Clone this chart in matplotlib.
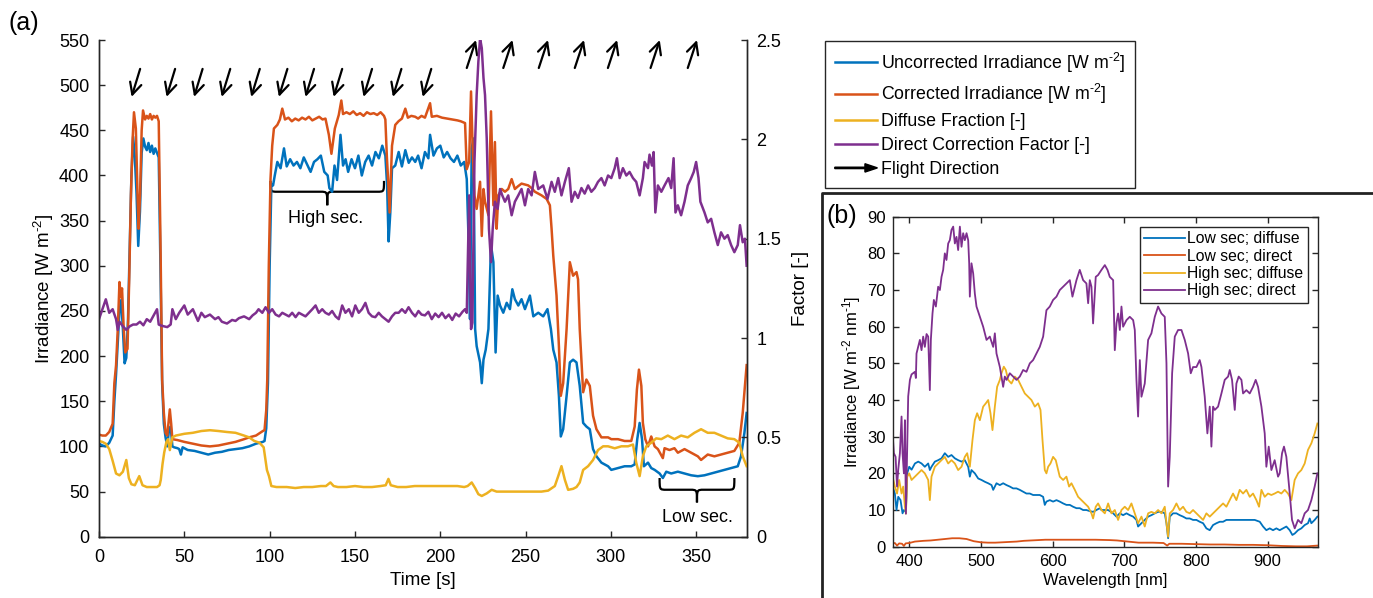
import numpy as np
import matplotlib
matplotlib.use('Agg')
import matplotlib.pyplot as plt
from matplotlib.path import Path
from matplotlib.patches import PathPatch, FancyArrow
from matplotlib.lines import Line2D
from matplotlib.legend_handler import HandlerBase

plt.rcParams['font.family'] = ['Liberation Sans', 'DejaVu Sans']
plt.rcParams['mathtext.fontset'] = 'custom'
plt.rcParams['mathtext.rm'] = 'Liberation Sans'
plt.rcParams['mathtext.default'] = 'regular'

C_BLUE, C_ORANGE, C_YELLOW, C_PURPLE = '#0072BD', '#D95319', '#EDB120', '#7E2F8E'
AX_COL = '#262626'

# ---------------- panel (a): time series ----------------
t_unc = [0, 2, 4, 6, 8, 9, 10, 11, 12, 13, 14, 15, 16, 17, 18, 19, 20, 21, 22, 23, 24, 25, 26, 27, 28, 29,
         30, 31, 32, 33, 34, 35, 36, 37, 38, 39, 40, 41, 42, 43, 44, 46, 47, 48, 49, 52, 56, 60, 64, 68, 72,
         76, 80, 84, 88, 92, 96, 97, 98, 99, 100, 101, 102, 103, 104.5, 106.4, 108.4, 110, 112, 114, 116,
         118, 120, 122, 124, 126, 128, 130, 132, 134, 135, 136.6, 138, 139.5, 141.5, 143, 144.5, 146, 148,
         150, 152, 154, 156, 158, 160, 162, 164, 166, 167.8, 168.8, 169.7, 170.7, 171.7, 173.6, 175.6,
         177.5, 179.5, 181.5, 183.4, 185.3, 187, 189, 191, 193, 194, 196, 198, 200, 202, 204, 206, 208,
         210, 212, 214, 215.5, 216.5, 217.4, 218.4, 219.4, 220.4, 221.3, 223.3, 224.3, 225.3, 226.6, 228.2,
         229.7, 231.1, 232.4, 233.6, 235, 236.9, 238.9, 240.8, 242.2, 243.7, 245.7, 247.6, 249.6, 252.5,
         254.5, 257.4, 260.3, 262.8, 264.8, 266.2, 268.1, 269.5, 270.6, 272, 274, 275.9, 277.8, 279.8,
         281.7, 283.7, 285.6, 287.6, 289.5, 291.5, 294.4, 298.3, 300.2, 304.1, 308, 311.9, 313.9, 315.4,
         316.8, 318.2, 319.3, 321.7, 323.6, 325.6, 328.5, 330.4, 332.4, 335.3, 339.2, 343.1, 347, 350.9,
         354.8, 358.7, 362.6, 366.5, 370.4, 374.3, 376.2, 378.2, 379.5]
irr_unc = [103, 101, 100, 104, 112, 150, 180, 215, 250, 262, 230, 192, 198, 240, 320, 400, 443, 420, 380,
           322, 360, 425, 441, 432, 428, 436, 426, 433, 424, 430, 425, 420, 300, 170, 125, 110, 100, 118,
           122, 100, 99, 98, 97, 91, 99, 96, 95, 93, 91, 93, 94, 96, 97, 98, 100, 103, 105, 106, 120, 170,
           300, 390, 389, 400, 415, 408, 430, 410, 418, 411, 415, 408, 420, 412, 404, 415, 418, 422, 404,
           400, 386, 382, 411, 395, 445, 411, 418, 404, 418, 408, 422, 400, 415, 422, 411, 426, 419, 433,
           422, 390, 327, 359, 408, 411, 426, 410, 428, 414, 420, 415, 422, 408, 426, 419, 445, 422, 430,
           433, 420, 426, 419, 415, 422, 411, 415, 396, 333, 241, 430, 441, 230, 211, 193, 170, 196, 207,
           230, 323, 304, 204, 267, 256, 248, 259, 252, 274, 263, 256, 263, 252, 267, 244, 248, 244, 252,
           230, 207, 193, 156, 111, 119, 156, 193, 196, 193, 167, 126, 122, 119, 97, 89, 82, 78, 74, 76,
           78, 78, 80, 108, 126, 108, 78, 82, 76, 74, 70, 65, 72, 70, 72, 70, 68, 67, 68, 70, 72, 74, 76,
           78, 89, 115, 137]

t_cor = [0, 2, 4, 6, 8, 9, 10, 11, 12, 12.8, 13.5, 14.5, 15.4, 16.7, 17.7, 18.7, 19.7, 20.5, 21.6, 22.6,
         23.2, 24.1, 25, 25.8, 27, 28, 29, 30, 31, 32, 33, 34, 35, 36, 37, 38, 39, 40, 41.5, 42.3, 43, 46,
         50, 55, 60, 65, 70, 75, 80, 85, 88, 92, 96, 97, 98, 98.6, 99.5, 100.5, 101.5, 102.5, 104.5, 106,
         107.4, 109, 111, 113, 115, 117, 119, 121, 123, 125, 127, 129, 131, 132.7, 134.7, 136.2, 138.2,
         140.5, 142, 143, 145, 147, 149, 151, 153, 155, 157, 159, 161, 163, 165, 167, 167.8, 168.7, 169.4,
         170.3, 171.7, 173.6, 175.5, 177.5, 179.5, 181, 183, 185.3, 187, 189, 191, 194, 195, 198, 201, 204,
         207, 210, 212, 214.5, 215.5, 216.9, 218, 218.8, 220, 221.3, 223.3, 224.3, 225.3, 226.2, 228.2,
         229.7, 231.1, 232, 233, 234, 236, 237.9, 239.8, 241.8, 243.7, 245.5, 247.6, 249.5, 251.5, 253.5,
         255.4, 257.4, 259.3, 262.3, 264.2, 265.2, 266.2, 268.1, 269.5, 270.6, 272, 274, 275.9, 277.8,
         279.8, 280.7, 281.7, 283.7, 285.6, 287.6, 289.5, 291.5, 294.4, 298.3, 300.2, 304.1, 308, 311.9,
         313.9, 315.2, 316.4, 317.8, 318.7, 320.1, 321.7, 323.6, 325.6, 327.5, 330.4, 331.4, 334.3, 337.2,
         339.2, 343.1, 347, 350.9, 352.8, 356.7, 360.6, 364.5, 368.4, 372.3, 375.2, 377.2, 379.5]
irr_cor = [113, 112, 112, 116, 125, 170, 190, 230, 282, 265, 275, 230, 204, 208, 285, 378, 440, 470, 452,
           378, 341, 380, 450, 472, 462, 466, 463, 468, 462, 466, 464, 466, 460, 330, 174, 137, 115, 112,
           141, 125, 108, 107, 105, 103, 101, 100, 101, 103, 105, 108, 110, 112, 117, 118, 140, 174, 300,
           396, 433, 452, 456, 462, 474, 462, 464, 460, 463, 461, 464, 462, 465, 461, 463, 465, 462, 463,
           445, 424, 452, 467, 483, 468, 470, 468, 471, 467, 469, 466, 470, 468, 469, 467, 470, 466, 462,
           420, 396, 359, 433, 456, 460, 463, 474, 464, 466, 465, 463, 466, 464, 480, 465, 466, 464, 463,
           462, 461, 460, 458, 407, 415, 493, 441, 378, 363, 393, 333, 385, 371, 356, 471, 367, 437, 341,
           378, 385, 382, 385, 396, 385, 388, 391, 390, 389, 386, 382, 380, 378, 374, 367, 341, 311, 267,
           211, 156, 170, 230, 304, 289, 293, 285, 230, 160, 174, 167, 134, 119, 110, 110, 108, 108, 106,
           106, 122, 163, 185, 167, 126, 108, 100, 111, 100, 97, 87, 98, 96, 98, 93, 97, 93, 89, 85, 91,
           89, 91, 93, 95, 104, 137, 190]

t_dif = [0, 2, 4, 6, 8, 10, 12, 14, 16, 17.5, 19, 21, 23.6, 25.5, 28, 31, 34, 35.5, 36.2, 37.2, 38.2, 39.5,
         40.5, 41.5, 43, 45, 50, 55, 60, 65, 70, 75, 80, 85, 88, 91, 94, 96.5, 98.4, 99.6, 101, 104, 110,
         115, 120, 125, 130, 133, 135.6, 137.5, 140, 145, 150, 155, 160, 165, 168, 169.6, 171, 175, 180,
         185, 190, 195, 200, 205, 210, 214, 216, 218.4, 220.4, 222.3, 224.3, 227.2, 230.1, 233, 237.9,
         243.7, 251.5, 259.3, 263.2, 267.1, 269.1, 271, 273, 274.9, 277.8, 279.8, 281.7, 283.7, 286.6,
         289.5, 292.4, 295.4, 298.3, 302.2, 306.1, 310, 312.9, 314.8, 316.8, 318.7, 320.7, 323.6, 326.5,
         329.5, 333.3, 337.2, 341.1, 345, 348.9, 352.8, 356.7, 360.6, 364.5, 368.4, 372.3, 375.2, 377.2,
         379.5]
dif_frac = [0.482, 0.477, 0.468, 0.441, 0.382, 0.318, 0.309, 0.327, 0.386, 0.295, 0.264, 0.259, 0.305,
            0.259, 0.25, 0.25, 0.25, 0.259, 0.286, 0.364, 0.423, 0.477, 0.491, 0.436, 0.5, 0.509, 0.518,
            0.523, 0.532, 0.536, 0.532, 0.527, 0.523, 0.509, 0.5, 0.482, 0.473, 0.45, 0.336, 0.305, 0.255,
            0.25, 0.25, 0.245, 0.25, 0.25, 0.255, 0.255, 0.273, 0.255, 0.25, 0.25, 0.255, 0.25, 0.25,
            0.255, 0.259, 0.291, 0.259, 0.25, 0.25, 0.255, 0.255, 0.255, 0.255, 0.255, 0.255, 0.25, 0.255,
            0.273, 0.245, 0.214, 0.205, 0.218, 0.236, 0.227, 0.227, 0.227, 0.227, 0.227, 0.232, 0.255,
            0.305, 0.355, 0.286, 0.236, 0.241, 0.25, 0.273, 0.336, 0.355, 0.386, 0.436, 0.455, 0.455,
            0.445, 0.455, 0.455, 0.464, 0.373, 0.305, 0.405, 0.455, 0.473, 0.495, 0.491, 0.509, 0.491,
            0.509, 0.5, 0.523, 0.541, 0.523, 0.523, 0.509, 0.495, 0.491, 0.473, 0.405, 0.355]

t_dcf = [0, 2, 4, 6, 8, 10, 11, 12, 14, 16, 18, 20, 22, 24, 26, 28, 30, 32, 34, 35, 36, 38, 40, 42, 43, 45,
         47, 50, 52, 55, 58, 60, 62, 65, 68, 70, 72, 75, 78, 80, 82, 85, 88, 90, 92, 93.5, 95.7, 97.6, 99.6,
         101.5, 103.5, 105.5, 107.4, 109.3, 111.3, 113.2, 115.2, 117.1, 119, 121, 123, 125, 126.9, 128.8,
         130.8, 132.7, 134.7, 136.6, 138.6, 140.5, 142.5, 144.4, 146.4, 148.3, 150.2, 152.2, 154.1, 156.1,
         158, 160, 161.9, 163.9, 165.8, 167.8, 169.7, 171.7, 173.6, 175.6, 177.5, 179.5, 181.4, 183.4,
         185.3, 187.2, 189, 191, 193, 195, 197, 199, 201, 203, 205, 207, 209, 211, 213, 214.5, 215.5,
         216.1, 216.9, 218, 218.8, 220, 221.3, 222.3, 223.3, 224.3, 225.3, 226.2, 227.2, 228.5, 229.7,
         230.7, 232, 233.6, 235, 236.3, 237.9, 239.8, 241.8, 243.7, 245.7, 247.6, 249.6, 251.5, 253.5,
         255.4, 257.4, 260.3, 262.8, 265.2, 267.1, 269.1, 271, 273, 275.3, 276.9, 278.8, 280.7, 282.7,
         284.6, 286.6, 288.5, 290.5, 292.4, 294.4, 296.3, 298.3, 300.2, 302.2, 303.5, 305.1, 307, 309,
         310.9, 312.9, 314.8, 316.8, 318.7, 319.7, 321.7, 322.6, 324, 325, 326, 327.5, 329.5, 331.4,
         333.7, 335.3, 336.7, 337.8, 339.2, 341.1, 343.1, 345, 347, 348.5, 349.9, 351.3, 352.4, 354.8,
         356.7, 358.7, 360.6, 362.6, 364.5, 366.5, 368.4, 370.4, 372.3, 374.3, 375.6, 377.2, 378.5, 379.5]
dcf = [1.095, 1.145, 1.195, 1.127, 1.145, 1.095, 1.041, 1.082, 1.059, 1.041, 1.059, 1.068, 1.068, 1.082,
       1.064, 1.095, 1.082, 1.114, 1.145, 1.068, 1.064, 1.059, 1.055, 1.068, 1.145, 1.095, 1.127, 1.164,
       1.118, 1.145, 1.086, 1.127, 1.105, 1.118, 1.095, 1.105, 1.082, 1.073, 1.091, 1.086, 1.1, 1.109,
       1.095, 1.114, 1.127, 1.145, 1.127, 1.155, 1.127, 1.145, 1.118, 1.109, 1.127, 1.118, 1.109, 1.127,
       1.105, 1.127, 1.118, 1.109, 1.127, 1.145, 1.164, 1.127, 1.145, 1.127, 1.118, 1.136, 1.109, 1.095,
       1.164, 1.127, 1.145, 1.109, 1.164, 1.127, 1.145, 1.177, 1.127, 1.109, 1.105, 1.127, 1.109, 1.095,
       1.082, 1.109, 1.127, 1.127, 1.145, 1.127, 1.155, 1.127, 1.109, 1.136, 1.118, 1.114, 1.132, 1.095,
       1.123, 1.105, 1.127, 1.1, 1.118, 1.091, 1.123, 1.109, 1.132, 1.145, 1.127, 1.382, 1.718, 1.045,
       1.077, 1.886, 2.223, 2.391, 2.509, 2.459, 2.309, 2.223, 2.005, 1.55, 1.382, 1.55, 1.686, 1.65,
       1.75, 1.718, 1.686, 1.718, 1.618, 1.686, 1.718, 1.75, 1.668, 1.75, 1.718, 1.836, 1.75, 1.768, 1.7,
       1.786, 1.736, 1.805, 1.718, 1.786, 1.855, 1.686, 1.736, 1.705, 1.755, 1.727, 1.768, 1.736, 1.755,
       1.786, 1.805, 1.768, 1.818, 1.805, 1.855, 1.905, 1.805, 1.855, 1.818, 1.836, 1.805, 1.786, 1.718,
       1.805, 1.886, 1.855, 1.923, 1.868, 1.936, 1.632, 1.768, 1.736, 1.768, 1.805, 1.755, 1.905, 1.632,
       1.668, 1.618, 1.686, 1.768, 1.805, 1.836, 1.886, 1.805, 1.686, 1.632, 1.582, 1.6, 1.532, 1.468,
       1.532, 1.5, 1.518, 1.468, 1.432, 1.468, 1.568, 1.482, 1.5, 1.364]

# flight direction arrows (time of arrow)
t_dir_out = [19.1, 39.6, 55.7, 71.9, 89.2, 105.4, 121.0, 137.5, 155.0, 172.2, 189.7]
t_dir_back = [215.5, 236.9, 257.7, 278.8, 298.2, 323.2, 345.0]

# ---------------- panel (b): spectra ----------------
wl_ld = [376.8, 380, 382.3, 384.7, 387.9, 390.7, 392.6, 395.4, 397.2, 400, 403.3, 408, 412.6, 417.2, 421.8,
         426.5, 428.8, 431.1, 435.8, 440.4, 445.1, 449.7, 454.4, 459, 463.7, 468.3, 473, 477.6, 482.3,
         484.6, 486.9, 491.6, 496.3, 500.9, 505.6, 510.2, 514.9, 517.2, 521.8, 526.5, 531.1, 535.8, 540.4,
         545, 549.7, 554.3, 559, 563.6, 568.3, 572.9, 577.6, 582.2, 586.9, 589.2, 591.5, 596.2, 600.8,
         605.5, 610.1, 614.8, 619.4, 624.1, 628.7, 633.4, 638, 642.7, 647.3, 652, 656.6, 661.3, 665.9,
         668.3, 677.6, 684.6, 689.2, 693.9, 698.5, 703.2, 707.8, 712.5, 717.1, 719.4, 724.1, 728.7, 733.4,
         738, 742.7, 747.3, 752, 756.6, 759, 761.3, 763.6, 768.2, 772.9, 777.5, 782.2, 786.8, 791.5, 796.1,
         800.8, 805.4, 810.1, 814.7, 819.4, 824, 828.7, 833.3, 838, 842.6, 847.3, 854.3, 863.6, 872.9,
         882.2, 889.2, 893.8, 898.4, 903.1, 907.7, 912.4, 917, 921.7, 926.3, 931, 934.7, 938, 942.6, 947.2,
         951.9, 956.5, 958.9, 961.2, 965.8, 969.6]
low_diffuse = [16.4, 14.5, 10, 13.6, 12.7, 9.1, 10, 9.5, 20, 21.8, 21, 22.7, 23.2, 22.7, 21.8, 22.7, 20.9,
               21.8, 23.2, 23.6, 24.1, 25.5, 24.5, 25, 24.1, 23.6, 23.2, 23.6, 21.8, 19.1, 20.9, 20, 18.6,
               18.2, 17.7, 17.3, 16.8, 15.5, 17.3, 16.8, 17.3, 16.8, 16.4, 15.9, 15.9, 15.5, 15, 14.5, 14.5,
               14.1, 14.1, 14.1, 13.6, 11.4, 12.3, 12.7, 12.3, 12.7, 12.3, 11.8, 11.4, 11.4, 10.9, 10.5,
               10.5, 10, 10, 9.7, 9.5, 10, 10.5, 10, 10, 9.1, 8.2, 9.1, 8.6, 9.1, 8.6, 8.2, 7.3, 5.5, 6.4,
               7.3, 8.2, 8.6, 9.1, 9.5, 9.5, 9.1, 6.4, 2.3, 8.2, 9.1, 9.1, 8.6, 8.2, 7.7, 7.7, 7.3, 7.3,
               6.8, 6.4, 5, 4.5, 5.9, 6.4, 6.8, 6.8, 7.3, 7.3, 7.3, 7.3, 7.3, 7.3, 6.8, 5.5, 4.5, 5, 4.5, 5,
               4.5, 5, 5.5, 4.5, 3.2, 3.6, 4.5, 5, 5.9, 6.4, 7.7, 6.4, 7.3, 8.2]

wl_lr = [376.8, 380, 383, 386, 390, 392.6, 395, 400, 408, 420, 430, 440, 450, 460, 470, 480, 490, 500, 510,
         520, 530, 540, 550, 560, 570, 580, 590, 600, 620, 640, 660, 680, 690, 700, 710, 720, 730, 740,
         755, 760, 763, 780, 800, 820, 840, 860, 880, 900, 920, 940, 955, 969.6]
low_direct = [0.9, 1.0, 0.3, 0.9, 0.8, 0.2, 0.9, 1.0, 1.4, 1.6, 1.7, 1.9, 2.1, 2.3, 2.3, 2.1, 1.5, 1.2, 1.1,
              1.1, 1.2, 1.3, 1.4, 1.6, 1.7, 1.8, 1.9, 1.9, 1.9, 1.9, 1.9, 1.8, 1.7, 1.5, 1.3, 1.1, 1.1,
              1.1, 1.0, 0.3, 0.8, 0.8, 0.7, 0.6, 0.6, 0.5, 0.5, 0.4, 0.2, 0.1, 0.1, 0.3]

wl_hd = [376.8, 380, 383, 386, 389.3, 391.6, 394, 395.4, 397.2, 400, 403.3, 408, 412.6, 417.2, 421.8, 426.5,
         428.8, 431.1, 435.8, 440.4, 445.1, 449.7, 454.4, 459, 463.7, 468.3, 473, 477.6, 480.9, 484.6,
         488.3, 491.6, 494.8, 498.6, 503.2, 506.9, 510.2, 513.4, 516.2, 519.5, 522.7, 526.5, 528.8, 532,
         534.8, 538.1, 542.7, 547.4, 552, 556.7, 561.3, 566, 570.6, 575.3, 579.9, 583.2, 586, 589.2, 591.5,
         593.9, 597.1, 600.8, 604.5, 607.8, 610.1, 614.8, 619.4, 623.1, 626.4, 631.1, 635.7, 640.4, 645,
         649.7, 654.3, 656.6, 660.3, 663.6, 668.3, 673, 677.6, 682.2, 686.9, 691.5, 696.2, 700.8, 705.5,
         710.1, 714.8, 719.4, 724.1, 728.7, 733.4, 738, 742.7, 747.3, 752, 756.6, 759, 761.3, 763.6, 768.2,
         772.9, 777.5, 782.2, 786.8, 791.5, 796.1, 800.8, 805.4, 810.1, 814.7, 819.4, 824, 828.7, 833.3,
         838, 842.6, 847.3, 851.9, 856.6, 861.2, 865.9, 870.5, 875.2, 879.8, 884.5, 888.2, 891.5, 896.1,
         900.7, 905.4, 910, 914.7, 919.3, 924, 928.6, 933.3, 937.9, 942.6, 947.2, 951.9, 956.5, 961.2,
         965.8, 969.6]
high_diffuse = [19.1, 16.4, 14.5, 18.2, 14.5, 16.4, 10.9, 9, 19.1, 20, 18.2, 19.1, 20, 20.9, 20, 18.2, 12.7,
                19.1, 21.8, 22.7, 23.6, 24.5, 22.7, 23.6, 22.7, 20.9, 21.8, 24.5, 25.5, 21.8, 29.1, 34.5,
                36.4, 34.5, 38.2, 39.1, 40, 36.4, 31.8, 38.2, 43.6, 45.5, 47.3, 49.1, 48.2, 45.5, 44.5,
                46.4, 45.5, 43.6, 41.8, 40.9, 40, 38.2, 39.1, 37.3, 29.1, 20.9, 20, 21.8, 22.7, 24.5, 23.6,
                20.9, 19.1, 18.2, 19.1, 16.4, 17.3, 15.5, 13.6, 12.7, 11.8, 10.9, 9.1, 7.7, 10.9, 11.8, 10,
                9.1, 11.8, 9.1, 10, 7.3, 10, 10.9, 10, 11.8, 9.1, 6.4, 8.2, 5.5, 9.1, 9.5, 9.1, 10, 9.1,
                10.9, 6.4, 2.7, 9.1, 10, 11.8, 10, 10.9, 9.5, 9.1, 10, 9.1, 8.2, 7.3, 9.1, 8.2, 9.1, 10,
                10.9, 11.8, 10.9, 12.7, 14.5, 12.7, 15.5, 14.5, 15.5, 13.6, 14.5, 12.7, 10.9, 15.5, 13.6,
                14.5, 14.1, 14.5, 15, 14.5, 15.5, 14.5, 12.7, 18.2, 20, 20.9, 22.7, 26.4, 28.2, 30.9, 33.6]

wl_hr = [376.8, 378.6, 381, 383, 384.7, 387, 389.3, 390.7, 392.6, 394, 395.4, 397.2, 398.6, 401, 403.3, 408,
         409.3, 410.2, 414.9, 417.2, 419.5, 421.8, 424.2, 426.5, 428.8, 430.2, 432.5, 434.4, 437.2, 440.4,
         442.8, 445.1, 447.4, 449.7, 452, 454.4, 456.7, 459, 461.4, 463.7, 466, 468.3, 470.7, 473, 475.3,
         477.6, 480, 482.3, 483.7, 484.6, 486.9, 489.3, 491.6, 493.9, 498.6, 503.2, 507.9, 512.5, 517.2,
         519.5, 521.8, 526.5, 531.1, 533.4, 535.8, 540.4, 545, 549.7, 554.3, 559, 563.6, 568.3, 572.9,
         577.6, 582.2, 586.9, 589.2, 591.5, 596.2, 600.8, 605.5, 610.1, 614.8, 619.4, 624.1, 627.8, 631.1,
         633.4, 638, 642.7, 647.3, 649.7, 652, 654.3, 656.6, 660.3, 663.6, 668.3, 673, 676.7, 679.9, 684.6,
         686.9, 689.2, 691.5, 693.9, 696.2, 698.5, 703.2, 707.8, 712.5, 714.8, 717.1, 719.4, 721.8, 724.1,
         728.7, 733.4, 738, 742.7, 747.3, 752, 756.6, 759, 761.3, 763.6, 766.9, 770.6, 775.2, 779.9, 784.5,
         789.2, 792.9, 796.1, 800.8, 805.4, 807.8, 812.4, 816.1, 819.4, 821.7, 824, 826.4, 831, 835.7,
         840.3, 845, 847.3, 850.5, 854.3, 856.6, 859.8, 863.6, 865.9, 870.5, 875.2, 879.8, 883.5, 886.8,
         891.5, 896.1, 898.4, 901.7, 905.4, 910, 914.7, 917, 920.3, 923, 926.3, 931, 934.2, 938, 942.6,
         947.2, 951.9, 956.5, 961.2, 965.8, 969.6]
high_direct = [31, 25.5, 24.5, 16.4, 21, 25.5, 35.5, 25.5, 20, 34.5, 9, 27, 41, 45.5, 47, 47.7, 46, 52.7,
               56.4, 53.6, 57.3, 54.5, 58, 57.3, 42.7, 56.4, 63.6, 67.3, 65.5, 70.9, 70, 73.6, 75.5, 80,
               78.2, 82.7, 83.6, 86.4, 87.3, 82.7, 84.5, 80.9, 87.3, 81.8, 85.5, 83.6, 85.5, 83.6, 77.3,
               68.2, 77.3, 74.5, 69, 65.5, 62.7, 60, 56.4, 57.3, 54.5, 58.2, 52.7, 49, 43.6, 46.4, 45.5,
               47.3, 46.4, 45.5, 46.4, 48.2, 47.7, 50, 50.9, 52.7, 54.5, 57.3, 60.9, 64.5, 65.5, 67.3, 68.2,
               70, 70.9, 71.8, 72.7, 68.2, 70.9, 72.7, 75.5, 72.7, 71.8, 66.4, 72.7, 70.9, 60.9, 73.6, 74.1,
               75.5, 76.8, 75.5, 73.6, 72.7, 53.6, 60.9, 63.6, 59.1, 65.5, 60, 61.8, 62.7, 61.8, 59.1, 45.5,
               35.5, 50.9, 40.9, 44.5, 56.4, 58.2, 62.7, 65.5, 63.6, 62.7, 50, 16.4, 24.5, 47.3, 57.3, 59.1,
               59.1, 56.4, 52.7, 47.3, 49, 49, 50.9, 49, 40.9, 30.9, 38.2, 27.3, 38.2, 37.3, 38.2, 41.8,
               45.5, 46.4, 48.2, 45.5, 37.3, 44.5, 46.4, 45.5, 41.8, 42.7, 41.8, 43.6, 45.5, 43.6, 38.2,
               30.9, 21.8, 27.3, 20.9, 23.6, 19.1, 20, 25.5, 27.3, 24.5, 14.5, 7.3, 5, 7.3, 6.4, 9.1, 10,
               12.7, 16.4, 20]


def draw_brace(ax, x0, x1, y_top, y_mid, y_tip, r):
    xc = 0.5 * (x0 + x1)
    verts = [(x0, y_top), (x0, y_mid), (x0, y_mid), (x0 + r, y_mid),
             (xc - r, y_mid), (xc, y_mid), (xc, y_mid), (xc, y_tip),
             (xc, y_mid), (xc, y_mid), (xc + r, y_mid),
             (x1 - r, y_mid), (x1, y_mid), (x1, y_mid), (x1, y_top)]
    codes = [Path.MOVETO, Path.CURVE4, Path.CURVE4, Path.CURVE4,
             Path.LINETO, Path.CURVE4, Path.CURVE4, Path.CURVE4,
             Path.CURVE4, Path.CURVE4, Path.CURVE4,
             Path.LINETO, Path.CURVE4, Path.CURVE4, Path.CURVE4]
    ax.add_patch(PathPatch(Path(verts, codes), fill=False, lw=1.6, edgecolor='k', clip_on=False))


class HandlerArrow(HandlerBase):
    def create_artists(self, legend, orig_handle, xdescent, ydescent, width, height, fontsize, trans):
        arr = FancyArrow(-xdescent, height / 2 - ydescent, width, 0, width=1.0, head_width=6,
                         head_length=9, length_includes_head=True, color='k', transform=trans)
        return [arr]


fig = plt.figure(figsize=(13.73, 5.98), dpi=100)

# ---- panel (a) ----
ax = fig.add_axes([0.0721, 0.1025, 0.4717, 0.8306])
ax2 = ax.twinx()
l1, = ax.plot(t_unc, irr_unc, color=C_BLUE, lw=1.8)
l2, = ax.plot(t_cor, irr_cor, color=C_ORANGE, lw=1.8)
l3, = ax2.plot(t_dif, dif_frac, color=C_YELLOW, lw=1.8)
l4, = ax2.plot(t_dcf, dcf, color=C_PURPLE, lw=1.8)

ax.set_xlim(0, 379.5)
ax.set_ylim(0, 550)
ax2.set_ylim(0, 2.5)
ax.set_xticks(np.arange(0, 351, 50))
ax.set_yticks(np.arange(0, 551, 50))
ax2.set_yticks([0, 0.5, 1, 1.5, 2, 2.5])
ax2.set_yticklabels(['0', '0.5', '1', '1.5', '2', '2.5'])
for a in (ax, ax2):
    a.spines['top'].set_visible(False)
    for s in a.spines.values():
        s.set_color(AX_COL)
        s.set_linewidth(1.0)
    a.tick_params(direction='in', length=4.5, width=1.0, color=AX_COL, labelsize=13, labelcolor='k', pad=7)
ax.tick_params(axis='x', pad=9)
ax.set_xlabel('Time [s]', fontsize=13.5, labelpad=4)
ax.set_ylabel('Irradiance [W m$^{\\text{-2}}$]', fontsize=13.5, labelpad=2)
ax2.set_ylabel('Factor [-]', fontsize=13.5, labelpad=8)

for t in t_dir_out:
    ax.annotate('', xy=(t, 487), xytext=(t + 5.0, 518), annotation_clip=False,
                arrowprops=dict(arrowstyle='->', lw=1.6, color='k', mutation_scale=21, shrinkA=0, shrinkB=0))
for t in t_dir_back:
    ax.annotate('', xy=(t + 5.4, 550), xytext=(t, 519), annotation_clip=False,
                arrowprops=dict(arrowstyle='->', lw=1.6, color='k', mutation_scale=21, shrinkA=0, shrinkB=0))

draw_brace(ax, 100.5, 167.0, 394, 382, 367, 4.0)
ax.text(133.0, 352, 'High sec.', ha='center', va='center', fontsize=13)
draw_brace(ax, 328.5, 372.3, 65, 52, 38, 4.0)
ax.text(350.7, 21, 'Low sec.', ha='center', va='center', fontsize=13)

fig.text(0.006, 0.962, '(a)', fontsize=18, ha='left', va='center')

arrow_proxy = Line2D([], [], color='k')
fig.legend([l1, l2, l3, l4, arrow_proxy],
           ['Uncorrected Irradiance [W m$^{\\text{-2}}$]', 'Corrected Irradiance [W m$^{\\text{-2}}$]',
            'Diffuse Fraction [-]', 'Direct Correction Factor [-]', 'Flight Direction'],
           handler_map={arrow_proxy: HandlerArrow()},
           loc='upper left', bbox_to_anchor=(825 / 1373, 1 - 40.7 / 598), borderaxespad=0,
           fontsize=12.8, frameon=True, fancybox=False, edgecolor=AX_COL, framealpha=1,
           handlelength=2.4, handletextpad=0.2, labelspacing=0.4, borderpad=0.55)

# ---- frame around panel (b) ----
fig.add_artist(Line2D([822 / 1373, 822 / 1373, 1.0], [0.0, 1 - 193 / 598, 1 - 193 / 598],
                      transform=fig.transFigure, color='#222222', lw=2.0))

# ---- panel (b) ----
bx = fig.add_axes([0.6502, 0.0858, 0.3095, 0.5518])
b1, = bx.plot(wl_ld, low_diffuse, color=C_BLUE, lw=1.3)
b2, = bx.plot(wl_lr, low_direct, color=C_ORANGE, lw=1.3)
b3, = bx.plot(wl_hd, high_diffuse, color=C_YELLOW, lw=1.3)
b4, = bx.plot(wl_hr, high_direct, color=C_PURPLE, lw=1.3)
bx.set_xlim(377, 970)
bx.set_ylim(0, 90)
bx.set_xticks(np.arange(400, 901, 100))
bx.set_yticks(np.arange(0, 91, 10))
for s in bx.spines.values():
    s.set_color(AX_COL)
    s.set_linewidth(1.0)
bx.tick_params(direction='in', length=4, width=1.0, color=AX_COL, labelsize=12, labelcolor='k',
               top=True, right=True, pad=5)
bx.set_xlabel('Wavelength [nm]', fontsize=12, labelpad=3)
bx.set_ylabel('Irradiance [W m$^{\\text{-2}}$ nm$^{\\text{-1}}$]', fontsize=12, labelpad=3)
bx.legend([b1, b2, b3, b4], ['Low sec; diffuse', 'Low sec; direct', 'High sec; diffuse', 'High sec; direct'],
          loc='upper right', bbox_to_anchor=(1 - 10 / 425, 1 - 10 / 330), borderaxespad=0,
          fontsize=11.3, frameon=True, fancybox=False, edgecolor=AX_COL, framealpha=1,
          handlelength=2.6, handletextpad=0.1, labelspacing=0.15, borderpad=0.3)
fig.text(826 / 1373, 1 - 216 / 598, '(b)', fontsize=18, ha='left', va='center')

fig.savefig('out.png', dpi=100)
